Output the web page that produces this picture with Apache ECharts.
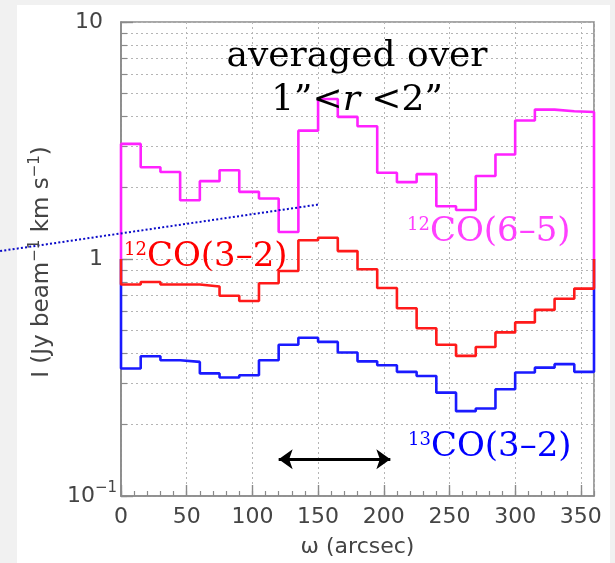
<!DOCTYPE html>
<html>
<head>
<meta charset="utf-8">
<script src="https://cdn.jsdelivr.net/npm/echarts@6/dist/echarts.min.js"></script>
<style>
  html, body { margin: 0; padding: 0; background: #f1f1f1; }
  #chart { width: 615px; height: 563px; }
</style>
</head>
<body>
<div id="chart"></div>
<script>
// Azimuthal profiles averaged over 1" < r < 2", binned every 15 arcsec in omega
const omegaEdges = [0, 15, 30, 45, 60, 75, 90, 105, 120, 135, 150, 165, 180,
                    195, 210, 225, 240, 255, 270, 285, 300, 315, 330, 345, 360];

// 12CO(6-5) intensity per bin (Jy beam^-1 km s^-1)
const co65 = [3.06, 2.44, 2.33, 1.77, 2.13, 2.37, 1.92, 1.80, 1.30, 3.48, 4.73, 3.98,
              3.63, 2.31, 2.11, 2.28, 1.67, 1.61, 2.24, 2.76, 3.84, 4.27, 4.20, 4.17];
// 12CO(3-2)
const co32 = [0.78, 0.80, 0.78, 0.78, 0.765, 0.70, 0.665, 0.79, 0.89, 1.20, 1.23, 1.08,
              0.905, 0.755, 0.62, 0.51, 0.435, 0.39, 0.425, 0.49, 0.54, 0.61, 0.68, 0.75];
// 13CO(3-2)
const c13co32 = [0.345, 0.389, 0.374, 0.368, 0.329, 0.316, 0.323, 0.374, 0.435, 0.465, 0.447, 0.403,
                 0.370, 0.356, 0.334, 0.321, 0.273, 0.228, 0.234, 0.282, 0.332, 0.348, 0.360, 0.334];

// histogram outlines close down to this level at both ends
const histBase = 1;

const xMajorTicks = [0, 50, 100, 150, 200, 250, 300, 350];
const yLabelValues = [0.1, 1, 10];
const yGridValues = [0.1, 0.2, 0.3, 0.4, 0.5, 0.6, 0.7, 0.8, 0.9,
                     1, 2, 3, 4, 5, 6, 7, 8, 9, 10];

// omega range marked with the double arrow, and its height
const arrowRange = [120, 205];
const arrowLevel = 0.143;

// dotted pointer line, from outside the panel into it
const pointerFrom = [-92, 1.08];
const pointerTo = [151, 1.70];

const MAGENTA = '#ff22ff';
const RED = '#ff1a1a';
const BLUE = '#1a1aff';
const AXIS_GRAY = '#8a8a8a';
const TEXT_GRAY = '#444';

function histPoints(vals) {
  const pts = [[omegaEdges[0], histBase]];
  vals.forEach((v, i) => pts.push([omegaEdges[i], v]));
  const n = vals.length;
  pts.push([omegaEdges[n], vals[n - 1]]);
  pts.push([omegaEdges[n], histBase]);
  return pts;
}

function histSeries(name, vals, color, extra) {
  return Object.assign({
    name: name,
    type: 'line',
    step: 'end',
    data: histPoints(vals),
    symbol: 'none',
    clip: false,
    lineStyle: { color: color, width: 2.6 },
    itemStyle: { color: color },
    emphasis: { disabled: true },
    animation: false
  }, extra || {});
}

const chart = echarts.init(document.getElementById('chart'), null, { renderer: 'canvas' });

const serif = '"DejaVu Serif", "Liberation Serif", serif';
const sans = '"DejaVu Sans", "Liberation Sans", sans-serif';

const option = {
  animation: false,
  backgroundColor: '#f1f1f1',
  grid: {
    left: 121, right: 21, top: 22, bottom: 65,
    show: true, borderColor: AXIS_GRAY, borderWidth: 1.6, backgroundColor: '#fff'
  },
  xAxis: [
    {
      type: 'value', min: 0, max: 360, interval: 50,
      axisLine: { show: true, lineStyle: { color: AXIS_GRAY, width: 1.6 } },
      axisTick: { show: true, inside: true, length: 11, lineStyle: { color: AXIS_GRAY, width: 1.4 } },
      axisLabel: {
        show: true, showMaxLabel: false, margin: 10,
        color: TEXT_GRAY, fontFamily: sans, fontSize: 22,
        formatter: v => (xMajorTicks.indexOf(v) >= 0 ? String(v) : '')
      },
      splitLine: { show: true, lineStyle: { color: '#b5b5b5', type: [2, 3], width: 1 } },
      name: 'ω (arcsec)', nameLocation: 'middle', nameGap: 40,
      nameTextStyle: { color: TEXT_GRAY, fontFamily: sans, fontSize: 22 }
    },
    {
      // minor ticks every 10 arcsec
      type: 'value', min: 0, max: 360, interval: 10, position: 'bottom',
      axisLine: { show: false },
      axisTick: { show: true, inside: true, length: 5, lineStyle: { color: AXIS_GRAY, width: 1.2 } },
      axisLabel: { show: false },
      splitLine: { show: false }
    }
  ],
  yAxis: [
    {
      type: 'log', logBase: 10, min: 0.1, max: 10,
      axisLine: { show: true, lineStyle: { color: AXIS_GRAY, width: 1.6 } },
      axisTick: { show: true, inside: true, length: 12, lineStyle: { color: AXIS_GRAY, width: 1.4 } },
      axisLabel: {
        show: true, margin: 4,
        formatter: function (v) {
          if (Math.abs(v - 0.1) < 1e-9) return '{n|10}{s|−1}';
          if (Math.abs(v - 1) < 1e-9) return '{p|1}';
          if (Math.abs(v - 10) < 1e-9) return '{p|10}';
          return '';
        },
        rich: {
          p: { color: TEXT_GRAY, fontFamily: sans, fontSize: 22, padding: [0, 14, 0, 0] },
          n: { color: TEXT_GRAY, fontFamily: sans, fontSize: 22 },
          s: { color: TEXT_GRAY, fontFamily: sans, fontSize: 15, padding: [0, 0, 16, 0] }
        }
      },
      splitLine: { show: false }
    },
    {
      // minor ticks and dotted grid at 2..9 of each decade
      type: 'log', logBase: 10, min: 0.1, max: 10, position: 'left',
      axisLine: { show: false },
      axisTick: { show: true, inside: true, length: 6, customValues: yGridValues,
                  lineStyle: { color: AXIS_GRAY, width: 1.2 } },
      axisLabel: { show: false },
      splitLine: { show: true, lineStyle: { color: '#b5b5b5', type: [2, 3], width: 1 } }
    }
  ],
  series: [
    histSeries('13CO(3-2)', c13co32, BLUE, {
      markLine: {
        silent: true,
        symbol: ['arrow', 'arrow'],
        symbolSize: [15, 14],
        label: { show: false },
        lineStyle: { color: '#000', width: 3, type: 'solid' },
        data: [[{ coord: [arrowRange[0], arrowLevel] }, { coord: [arrowRange[1], arrowLevel] }]]
      }
    }),
    histSeries('12CO(3-2)', co32, RED),
    histSeries('12CO(6-5)', co65, MAGENTA)
  ]
};

chart.setOption(option);

// annotations
const p0 = chart.convertToPixel({ xAxisIndex: 0, yAxisIndex: 0 }, pointerFrom);
const p1 = chart.convertToPixel({ xAxisIndex: 0, yAxisIndex: 0 }, pointerTo);

chart.setOption({
  graphic: [
    {
      type: 'rect', z: -10, silent: true,
      shape: { x: 17, y: 5, width: 593, height: 560 },
      style: { fill: '#fff' }
    },
    {
      type: 'line', z: 100, silent: true,
      shape: { x1: p0[0], y1: p0[1], x2: p1[0], y2: p1[1] },
      style: { stroke: '#0a0ac8', lineWidth: 2, lineDash: [2, 2.2] }
    },
    {
      type: 'text', z: 100, silent: true, x: 357, y: 57,
      style: { text: 'averaged over', fill: '#000', font: '36px ' + serif,
               align: 'center', verticalAlign: 'middle' }
    },
    {
      type: 'text', z: 100, silent: true, x: 357, y: 101,
      style: {
        text: '{n|1”<}{i|r}{n| <2”}', align: 'center', verticalAlign: 'middle',
        rich: {
          n: { fill: '#000', fontFamily: serif, fontSize: 36 },
          i: { fill: '#000', fontFamily: serif, fontSize: 36, fontStyle: 'italic' }
        }
      }
    },
    {
      type: 'text', z: 100, silent: true, x: 407, y: 232,
      style: {
        text: '{s|12}{m|CO(6–5)}', align: 'left', verticalAlign: 'middle',
        rich: {
          s: { fill: '#ff40ff', fontFamily: serif, fontSize: 18, padding: [0, 0, 14, 0] },
          m: { fill: '#ff40ff', fontFamily: serif, fontSize: 34 }
        }
      }
    },
    {
      type: 'text', z: 100, silent: true, x: 124, y: 257,
      style: {
        text: '{s|12}{m|CO(3–2)}', align: 'left', verticalAlign: 'middle',
        rich: {
          s: { fill: '#ff0000', fontFamily: serif, fontSize: 18, padding: [0, 0, 14, 0] },
          m: { fill: '#ff0000', fontFamily: serif, fontSize: 34 }
        }
      }
    },
    {
      type: 'text', z: 100, silent: true, x: 408, y: 447,
      style: {
        text: '{s|13}{m|CO(3–2)}', align: 'left', verticalAlign: 'middle',
        rich: {
          s: { fill: '#0000ff', fontFamily: serif, fontSize: 18, padding: [0, 0, 14, 0] },
          m: { fill: '#0000ff', fontFamily: serif, fontSize: 34 }
        }
      }
    },
    {
      type: 'text', z: 100, silent: true, x: 42, y: 262, rotation: Math.PI / 2,
      style: {
        text: '{t|I (Jy beam}{u|−1}{t| km s}{u|−1}{t|)}', align: 'center', verticalAlign: 'middle',
        rich: {
          t: { fill: TEXT_GRAY, fontFamily: sans, fontSize: 23 },
          u: { fill: TEXT_GRAY, fontFamily: sans, fontSize: 15, padding: [0, 0, 14, 0] }
        }
      }
    }
  ]
});
</script>
</body>
</html>
